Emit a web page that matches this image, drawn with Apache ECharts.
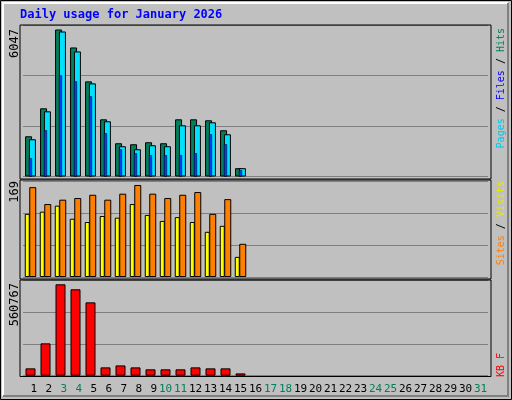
<!DOCTYPE html>
<html>
<head>
<meta charset="utf-8">
<script src="https://cdn.jsdelivr.net/npm/echarts@6/dist/echarts.min.js"></script>
<style>html,body{margin:0;padding:0;background:#c0c0c0}#box{width:512px;height:400px}</style>
</head>
<body>
<div id="box"></div>
<script>
var days = [];
for (var d = 1; d <= 31; d++) days.push(String(d));
var weekend = ['3','4','10','11','17','18','24','25','31'];

var hits  = [1655, 2805, 6047, 5308, 3913, 2353, 1368, 1327, 1409, 1368, 2353, 2353, 2312, 1902, 342];
var files = [1532, 2681, 5965, 5144, 3831, 2271, 1245, 1122, 1286, 1245, 2107, 2107, 2230, 1737, 342];
var pages = [752, 1902, 4159, 3913, 3297, 1778, 1122, 958, 876, 876, 876, 958, 1737, 1327, 260];
var visits = [165, 134, 142, 145, 151, 142, 153, 169, 153, 145, 151, 156, 116, 143, 61];
var sites  = [116, 120, 131, 107, 101, 112, 109, 134, 114, 103, 110, 101, 83, 94, 37];
var kbytes = [45000, 198500, 560767, 530000, 450000, 51000, 63000, 51000, 39000, 39000, 39000, 51000, 45000, 45000, 14000];

var dom = document.getElementById('box');
var myChart = echarts.init(dom);
var mono = 'DejaVu Sans Mono';
var bd = {borderColor: '#000', borderWidth: 1};

function xax(idx, show) {
    return {
        type: 'category', gridIndex: idx, data: days, show: show,
        axisLine: {show: false}, axisTick: {show: false},
        axisLabel: {
            show: show, interval: 0, margin: 8, fontFamily: mono, fontSize: 11,
            formatter: function (v) {
                var s = v.length < 2 ? ' ' + v : v;
                return weekend.indexOf(v) >= 0 ? '{g|' + s + '}' : '{b|' + s + '}';
            },
            rich: {g: {color: '#00805c', fontFamily: mono, fontSize: 11}, b: {color: '#000', fontFamily: mono, fontSize: 11}}
        }
    };
}
function yax(idx, max) {
    return {
        type: 'value', gridIndex: idx, min: 0, max: max, interval: max / 3,
        axisLabel: {show: false}, axisLine: {show: false}, axisTick: {show: false},
        splitLine: {lineStyle: {color: '#808080', width: 1}}
    };
}
function frame(y1, y2) {
    return {type: 'rect', shape: {x: 20, y: y1, width: 471, height: y2 - y1},
        style: {fill: null, stroke: '#000', lineWidth: 1}, z: 100};
}
function vtext(x, y, txt, rich, size) {
    return {type: 'text', x: x, y: y, rotation: Math.PI / 2, z: 100,
        style: {text: txt, rich: rich, align: 'right', verticalAlign: 'middle',
            font: size + 'px "' + mono + '"', fill: '#000'}};
}
var rs = function (c) { return {fill: c, fontFamily: mono, fontSize: 10}; };

option = {
    backgroundColor: '#c0c0c0',
    animation: false,
    grid: [
        {left: 23, right: 24, top: 25, height: 151.5},
        {left: 23, right: 24, top: 181, height: 96},
        {left: 23, right: 24, top: 280, height: 95.7}
    ],
    xAxis: [xax(0, false), xax(0, false), xax(1, false), xax(2, true)],
    yAxis: [yax(0, 6232), yax(1, 176.3), yax(2, 587150)],
    series: [
        {type: 'bar', name: 'Hits', xAxisIndex: 0, yAxisIndex: 0, data: hits, barWidth: 7, barGap: '-45%',
            itemStyle: Object.assign({color: '#00805c'}, bd)},
        {type: 'bar', name: 'Files', xAxisIndex: 0, yAxisIndex: 0, data: files, barWidth: 7, barGap: '-45%',
            itemStyle: Object.assign({color: '#00e0ff'}, bd)},
        {type: 'bar', name: 'Pages', xAxisIndex: 1, yAxisIndex: 0, data: pages, barWidth: 3, z: 5,
            itemStyle: {color: '#0040ff', borderColor: '#000', borderWidth: 0.5}},
        {type: 'bar', name: 'Sites', xAxisIndex: 2, yAxisIndex: 1, data: sites, barWidth: 5, barGap: '-10%',
            itemStyle: Object.assign({color: '#ffff00'}, bd)},
        {type: 'bar', name: 'Visits', xAxisIndex: 2, yAxisIndex: 1, data: visits, barWidth: 7, barGap: '-10%',
            itemStyle: Object.assign({color: '#ff8000'}, bd)},
        {type: 'bar', name: 'KBytes', xAxisIndex: 3, yAxisIndex: 2, data: kbytes, barWidth: 10,
            itemStyle: Object.assign({color: '#ff0000'}, bd)}
    ],
    graphic: [
        {type: 'rect', shape: {x: 0.5, y: 0.5, width: 511, height: 399}, style: {fill: null, stroke: '#000', lineWidth: 1}},
        {type: 'polyline', shape: {points: [[3, 396], [3, 3], [508, 3]]}, style: {stroke: '#fff', fill: null, lineWidth: 2}},
        {type: 'polyline', shape: {points: [[3, 396], [508, 396], [508, 3]]}, style: {stroke: '#808080', fill: null, lineWidth: 2}},
        {type: 'text', x: 20, y: 15, style: {text: 'Daily usage for January 2026', font: 'bold 12px "' + mono + '"', fill: '#0000ff', verticalAlign: 'middle'}},
        frame(25, 179), frame(180, 279), frame(280, 376.5),
        vtext(15, 29, '6047', {}, 12),
        vtext(15, 181, '169', {}, 12),
        vtext(15, 283, '560767', {}, 12),
        vtext(501, 28, '{p|Pages} / {f|Files} / {h|Hits}', {p: rs('#00c8e8'), f: rs('#0000ff'), h: rs('#00805c')}, 10),
        vtext(501, 181, '{s|Sites} / {v|Visits}', {s: rs('#ff8000'), v: rs('#e8e800')}, 10),
        vtext(501, 353, '{k|KB F}', {k: rs('#ff0000')}, 10)
    ]
};

if (option && typeof option === "object") {
    myChart.setOption(option, true);
}
</script>
</body>
</html>
